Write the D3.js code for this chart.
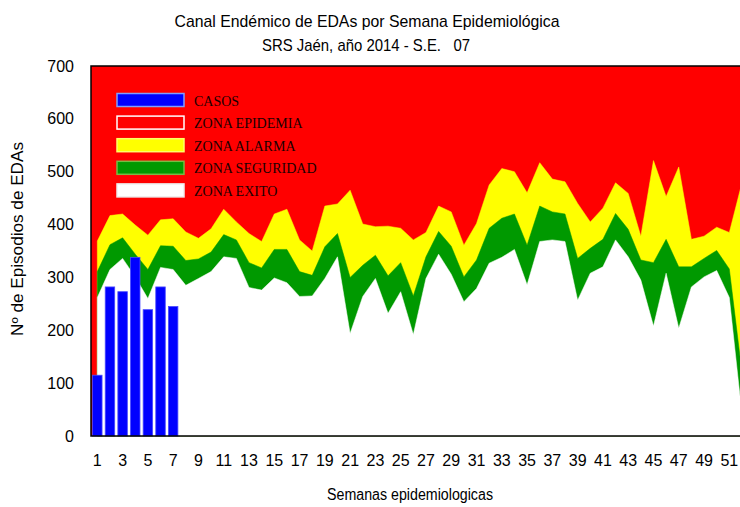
<!DOCTYPE html>
<html>
<head>
<meta charset="utf-8">
<title>Canal Endémico de EDAs</title>
<script src="https://d3js.org/d3.v7.min.js"></script>
<style>
  body { margin: 0; background: #fff; }
  .narrow { font-family: "Liberation Sans Narrow", "Arial Narrow", "Liberation Sans", Arial, sans-serif; }
</style>
</head>
<body>
<svg width="740" height="507" id="chart"></svg>
<script>
var semanas = d3.range(1, 53);
var casos = [115, 282, 273, 338, 239, 282, 245];
var alarma = [369, 417, 420, 399, 380, 409, 411, 386, 374, 392, 429, 405, 383, 368, 420, 429, 371, 350, 435, 439,
              465, 401, 396, 397, 393, 371, 385, 435, 424, 361, 402, 475, 506, 500, 460, 517, 486, 481, 440, 405,
              431, 479, 459, 378, 521, 453, 509, 372, 378, 395, 385, 479];
var seguridad = [311, 362, 375, 344, 315, 360, 359, 332, 335, 348, 381, 371, 328, 318, 353, 353, 311, 304, 358, 383,
                 300, 323, 342, 303, 328, 265, 339, 387, 359, 301, 333, 393, 412, 420, 361, 435, 424, 420, 336, 355,
                 372, 421, 391, 333, 328, 372, 320, 320, 336, 351, 316, 120];
var exito = [262, 315, 336, 301, 260, 319, 315, 285, 298, 311, 339, 336, 281, 276, 299, 290, 264, 265, 298, 339,
             194, 264, 298, 232, 273, 192, 298, 344, 306, 254, 279, 327, 338, 353, 286, 368, 371, 368, 257, 308,
             320, 371, 339, 295, 208, 308, 204, 282, 301, 313, 262, 41];
var yTicks = [0, 100, 200, 300, 400, 500, 600, 700];
var leyenda = [
  {nombre: "CASOS", fill: "#0000ff", stroke: "#7f9fff"},
  {nombre: "ZONA EPIDEMIA", fill: "#ff0000", stroke: "#ffffff"},
  {nombre: "ZONA ALARMA", fill: "#ffff00", stroke: "#ffff66"},
  {nombre: "ZONA SEGURIDAD", fill: "#009900", stroke: "#77bb44"},
  {nombre: "ZONA EXITO", fill: "#ffffff", stroke: "#eeeeee"}
];

var svg = d3.select("#chart"),
    pLeft = 91, pTop = 66, pBottom = 436,
    pRight = pLeft + 52 * 12.64;

var x = d3.scaleBand().domain(semanas).range([pLeft, pRight]).paddingInner(0.25).paddingOuter(0.125);
var y = d3.scaleLinear().domain([0, 700]).range([pBottom, pTop]);
var cx = function(s) { return x(s) + x.bandwidth() / 2; };

svg.append("rect")
  .attr("x", pLeft).attr("y", pTop)
  .attr("width", pRight - pLeft).attr("height", pBottom - pTop)
  .attr("fill", "#ff0000");

function zona(vals, color) {
  var area = d3.area()
    .x(function(d, i) { return cx(semanas[i]); })
    .y0(y(0))
    .y1(function(d) { return y(d); });
  svg.append("path")
    .datum(vals)
    .attr("d", area)
    .attr("fill", color)
    .attr("stroke", color)
    .attr("stroke-width", 0.5);
}
zona(alarma, "#ffff00");
zona(seguridad, "#009900");
zona(exito, "#ffffff");

svg.selectAll(".bar")
  .data(casos)
  .enter()
  .append("rect")
  .attr("class", "bar")
  .attr("x", function(d, i) { return x(semanas[i]); })
  .attr("y", function(d) { return y(d); })
  .attr("width", x.bandwidth())
  .attr("height", function(d) { return y(0) - y(d); })
  .attr("fill", "#0000ff")
  .attr("stroke", "#4a4aff")
  .attr("stroke-width", 0.8);

svg.append("rect")
  .attr("x", pLeft).attr("y", pTop)
  .attr("width", pRight - pLeft).attr("height", pBottom - pTop)
  .attr("fill", "none")
  .attr("stroke", "#000")
  .attr("stroke-width", 1.5);

var yAxis = svg.append("g")
  .attr("class", "narrow")
  .attr("transform", "translate(" + pLeft + ",0)")
  .call(d3.axisLeft(y).tickValues(yTicks).tickSize(0).tickPadding(17));
yAxis.select(".domain").remove();
yAxis.selectAll("text").attr("font-size", 16).attr("fill", "#000").attr("font-family", null);

var xAxis = svg.append("g")
  .attr("class", "narrow")
  .attr("transform", "translate(0," + pBottom + ")")
  .call(d3.axisBottom(x).tickValues(semanas.filter(function(s) { return s % 2 == 1; })).tickSize(0).tickPadding(19));
xAxis.select(".domain").remove();
xAxis.selectAll("text").attr("font-size", 16).attr("fill", "#000").attr("font-family", null);

svg.append("text")
  .attr("class", "narrow")
  .attr("x", 367).attr("y", 27)
  .attr("text-anchor", "middle")
  .attr("font-size", 17)
  .attr("textLength", 385)
  .attr("lengthAdjust", "spacingAndGlyphs")
  .text("Canal Endémico de EDAs por Semana Epidemiológica");
svg.append("text")
  .attr("class", "narrow")
  .attr("x", 366).attr("y", 51)
  .attr("text-anchor", "middle")
  .attr("font-size", 17)
  .attr("textLength", 208)
  .attr("lengthAdjust", "spacingAndGlyphs")
  .attr("xml:space", "preserve")
  .style("white-space", "pre")
  .text("SRS Jaén, año 2014 - S.E.   07");

svg.append("text")
  .attr("class", "narrow")
  .attr("x", 410).attr("y", 500)
  .attr("text-anchor", "middle")
  .attr("font-size", 16)
  .attr("textLength", 166)
  .attr("lengthAdjust", "spacingAndGlyphs")
  .text("Semanas epidemiologicas");

svg.append("text")
  .attr("transform", "translate(23,239) rotate(-90)")
  .attr("text-anchor", "middle")
  .attr("font-family", "'Liberation Sans', Arial, sans-serif")
  .attr("font-size", 16)
  .attr("textLength", 194)
  .attr("lengthAdjust", "spacingAndGlyphs")
  .text("Nº de Episodios de EDAs");

var ley = svg.append("g")
  .selectAll("g")
  .data(leyenda)
  .enter()
  .append("g")
  .attr("transform", function(d, i) { return "translate(117," + (93.5 + i * 22.6) + ")"; });
ley.append("rect")
  .attr("width", 67).attr("height", 13)
  .attr("fill", function(d) { return d.fill; })
  .attr("stroke", function(d) { return d.stroke; })
  .attr("stroke-width", 1.5);
ley.append("text")
  .attr("x", 77).attr("y", 12)
  .attr("font-family", "'Liberation Serif', 'Times New Roman', serif")
  .attr("font-size", 14)
  .attr("fill", "#1a0000")
  .text(function(d) { return d.nombre; });
</script>
</body>
</html>
